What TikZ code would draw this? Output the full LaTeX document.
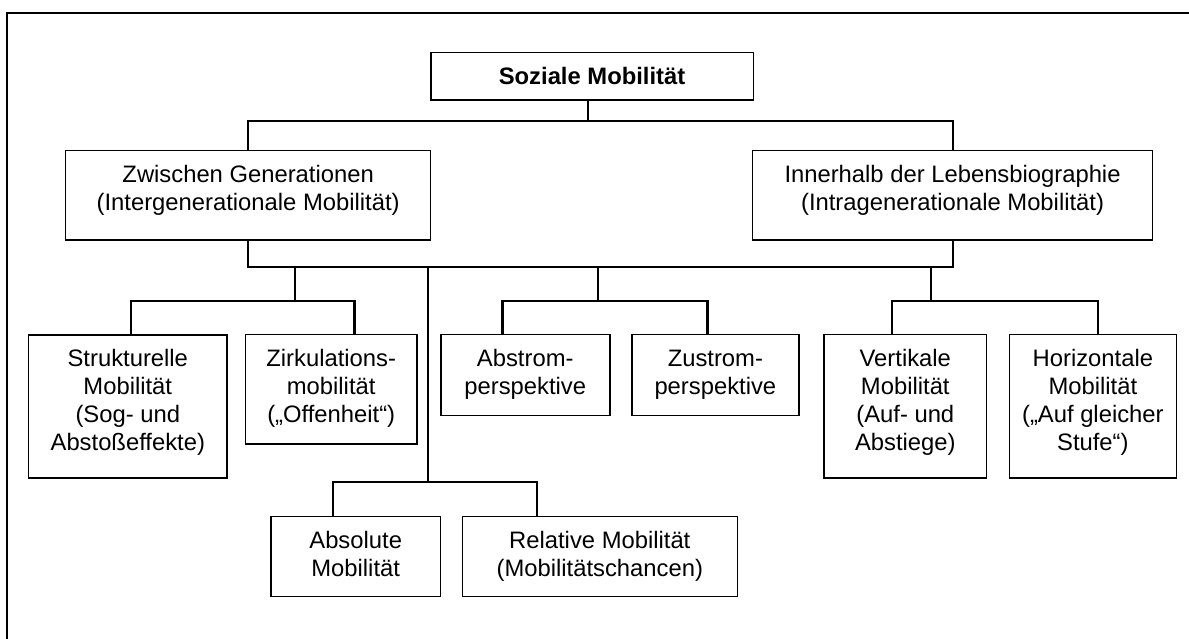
\documentclass[tikz,border=0pt]{standalone}
\usepackage{fontspec}
\setmainfont{Liberation Sans}
\usetikzlibrary{calc}

% fixed-size cell: text starts with its first baseline 32pt below the top edge
\newcommand{\cellbox}[3]{\parbox[t][#2][t]{#1}{\centering\rule{0pt}{32pt}#3}}

\tikzset{
  cell/.style={draw, line width=1.5pt, inner sep=0pt, anchor=north west},
  link/.style={line width=2pt, line cap=rect},
  brace/.style={line width=2.3pt, line cap=rect, line join=miter},
  frame/.style={line width=1.7pt}
}

\begin{document}
\begin{tikzpicture}[x=1pt, y=-1pt, font=\fontsize{23.8pt}{28pt}\selectfont]
\useasboundingbox (0,0) rectangle (1189,638);

% open outer frame (top and left edges)
\draw[frame] (7.3,660) -- (7.3,12.7) -- (1210,12.7);

% boxes
\node[cell] (top) at (430,51.7) {\cellbox{322.6pt}{47.3pt}{\textbf{Soziale Mobilität}}};
\node[cell, line width=1.3pt] (gen1) at (65,150) {\cellbox{365pt}{89.3pt}{Zwischen Generationen\\(Intergenerationale Mobilität)}};
\node[cell, line width=1.3pt] (gen2) at (752,150) {\cellbox{399.8pt}{89.3pt}{Innerhalb der Lebensbiographie\\(Intragenerationale Mobilität)}};

\node[cell] (struct) at (27.9,334) {\cellbox{198.3pt}{143pt}{Strukturelle\\Mobilität\\(Sog- und\\Abstoßeffekte)}};
\node[cell] (zirk) at (244.9,333.5) {\cellbox{171.1pt}{109.5pt}{Zirkulations-\\mobilität\\(„Offenheit“)}};
\node[cell] (abstrom) at (440,333.5) {\cellbox{169pt}{81pt}{Abstrom-\\perspektive}};
\node[cell] (zustrom) at (631,333.5) {\cellbox{167.2pt}{81pt}{Zustrom-\\perspektive}};
\node[cell] (vert) at (823.4,333.5) {\cellbox{162.3pt}{143.5pt}{Vertikale\\Mobilität\\(Auf- und\\Abstiege)}};
\node[cell] (horiz) at (1008.7,333.5) {\cellbox{166.8pt}{143.5pt}{Horizontale\\Mobilität\\(„Auf gleicher\\Stufe“)}};
\node[cell] (absolute) at (270.2,515.7) {\cellbox{169.5pt}{80pt}{Absolute\\Mobilität}};
\node[cell] (relative) at (461.5,515.7) {\cellbox{275.1pt}{80pt}{Relative Mobilität\\(Mobilitätschancen)}};

% junction points
\coordinate (j0) at (588.3,121);
\coordinate (bar) at (0,267);
\coordinate (d1) at (295,300.7);
\coordinate (s1) at (131,300.7);
\coordinate (z1) at (354.4,300.7);
\coordinate (d2) at (598,300.7);
\coordinate (s2) at (502.5,300.7);
\coordinate (z2) at (707.5,300.7);
\coordinate (d3) at (931.4,300.7);
\coordinate (s3) at (892.3,300.7);
\coordinate (z3) at (1097.8,300.7);
\coordinate (d4) at (427.7,482);
\coordinate (s4) at (333,482);
\coordinate (z4) at (537.3,482);

% top level
\draw[link] (top.south -| j0) -- (j0);
\draw[link] (gen1.north) |- (j0) -| (gen2.north);

% common bar below the two generation boxes
\draw[link] (gen1.south) -- (gen1.south |- bar) -- (gen2.south |- bar) -- (gen2.south);

% drops from the bar
\draw[link] (d1 |- bar) -- (d1);
\draw[link] (d2 |- bar) -- (d2);
\draw[link] (d3 |- bar) -- (d3);
\draw[link] (d4 |- bar) -- (d4);

% brackets to the leaf boxes
\draw[brace] (s1 |- struct.north) -- (s1) -- (z1) -- (z1 |- zirk.north);
\draw[brace] (s2 |- abstrom.north) -- (s2) -- (z2) -- (z2 |- zustrom.north);
\draw[brace] (s3 |- vert.north) -- (s3) -- (z3) -- (z3 |- horiz.north);
\draw[brace] (s4 |- absolute.north) -- (s4) -- (z4) -- (z4 |- relative.north);
\end{tikzpicture}
\end{document}
